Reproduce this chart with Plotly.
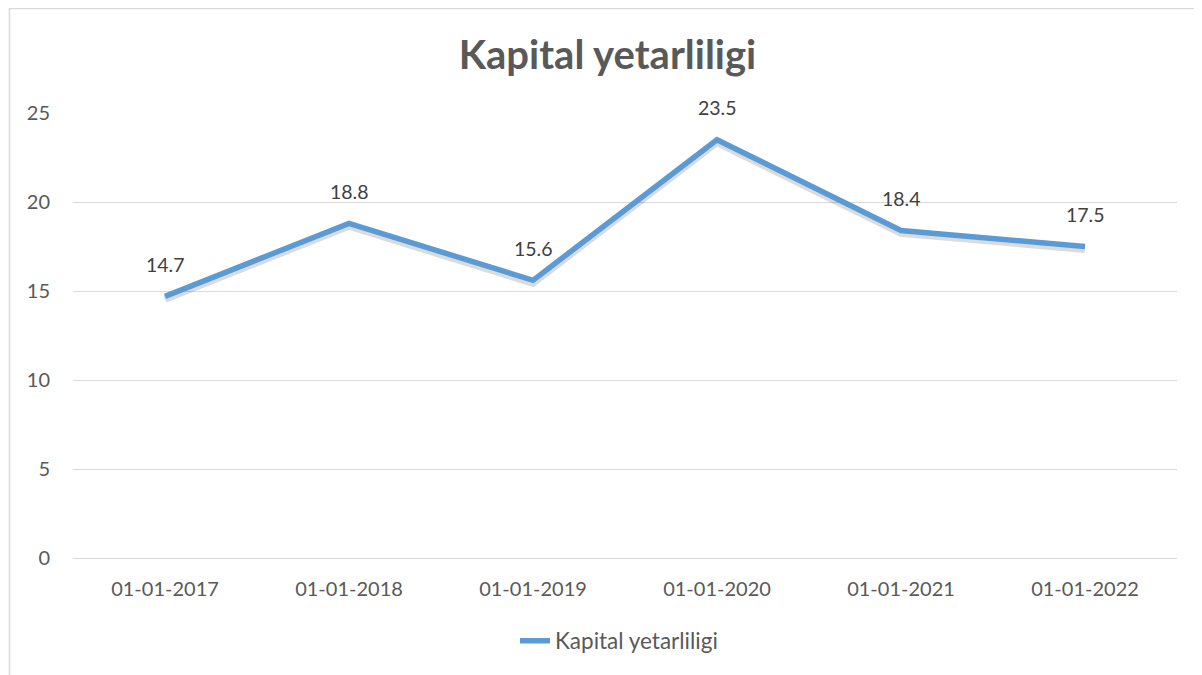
import plotly.graph_objects as go

categories = ["01-01-2017", "01-01-2018", "01-01-2019", "01-01-2020", "01-01-2021", "01-01-2022"]
values = [14.7, 18.8, 15.6, 23.5, 18.4, 17.5]
series_name = "Kapital yetarliligi"
title_text = "Kapital yetarliligi"
y_ticks = [0, 5, 10, 15, 20, 25]

FONT = "Lato, 'Open Sans', sans-serif"
TXT = "#595959"
GRID = "#D9D9D9"

fig = go.Figure()

# soft shadow under the line
fig.add_trace(go.Scatter(
    x=categories, y=[v - 0.15 for v in values], mode="lines",
    line=dict(color="rgba(0,0,0,0.14)", width=7.5), showlegend=False, hoverinfo="skip"))

fig.add_trace(go.Scatter(
    x=categories, y=values, mode="lines", name=series_name,
    line=dict(color="#5B9BD5", width=5.5)))

for c, v in zip(categories, values):
    fig.add_annotation(x=c, y=v, text=f"{v}", showarrow=False, yshift=32,
                       font=dict(family=FONT, size=19.5, color="#404040"))

# page body has an 8px margin, so the figure is sized to the visible area
W, H = 1194, 667
L, R, T, B = 65, 25, 105, 117
pw, ph = W - L - R, H - T - B

fig.add_shape(type="rect", xref="paper", yref="paper",
              x0=(1.5 - L) / pw, x1=(1192.5 - L) / pw,
              y0=(H - B - 700) / ph, y1=(H - B - 0.5) / ph,
              line=dict(color=GRID, width=1.5), fillcolor="rgba(0,0,0,0)", layer="below")

fig.update_layout(
    width=W, height=H,
    margin=dict(l=L, r=R, t=T, b=B),
    paper_bgcolor="white", plot_bgcolor="white",
    font=dict(family=FONT, color=TXT, size=20),
    title=dict(text=f"<b>{title_text}</b>", x=599.5 / W, xanchor="center", y=1 - 47 / H, yanchor="middle",
               font=dict(family=FONT, size=40, color=TXT)),
    xaxis=dict(type="category", range=[-0.5, 5.5], showgrid=False, showline=False, zeroline=False, ticks="",
               ticklabelstandoff=17, tickfont=dict(size=20, color=TXT)),
    yaxis=dict(range=[0, 25], tickvals=y_ticks, showgrid=True, gridcolor=GRID, gridwidth=1.2,
               zeroline=True, zerolinecolor=GRID, zerolinewidth=1.2, showline=False, ticks="",
               ticklabelstandoff=22, tickfont=dict(size=20, color=TXT)),
    legend=dict(orientation="h", x=(611 - L) / pw, xanchor="center", y=(H - B - 633) / ph, yanchor="middle",
                font=dict(family=FONT, size=22.5, color=TXT), bgcolor="rgba(0,0,0,0)"),
    showlegend=True,
)

fig.write_html("out.html")
